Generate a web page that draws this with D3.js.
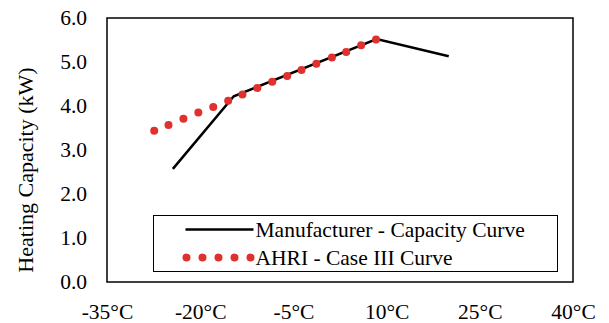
<!DOCTYPE html>
<html>
<head>
<meta charset="utf-8">
<script src="https://cdn.jsdelivr.net/npm/d3@7"></script>
<style>
  body { margin: 0; background: #fff; }
  svg text { font-family: "Liberation Serif", "Times New Roman", Times, "DejaVu Serif", serif !important; fill: #000; }
</style>
</head>
<body>
<div id="chart"></div>
<script>
// Chart data
var manufTemp = [-24.4, -14.6, 8.4, 20.0];
var manufCap = [2.57, 4.22, 5.52, 5.13];

var ahriTemp = [-27.4, -25.1, -22.7, -20.3, -17.9, -15.5, -13.2, -10.8, -8.4, -6.0, -3.7, -1.3, 1.2, 3.5, 5.9, 8.3];
var ahriCap = [3.44, 3.57, 3.71, 3.85, 3.98, 4.12, 4.26, 4.41, 4.55, 4.68, 4.82, 4.96, 5.10, 5.23, 5.38, 5.51];

var xTicks = [-35, -20, -5, 10, 25, 40];
var yTicks = [0, 1, 2, 3, 4, 5, 6];
var seriesNames = ["Manufacturer - Capacity Curve", "AHRI - Case III Curve"];

var serif = "'Liberation Serif', 'Times New Roman', Times, 'DejaVu Serif', serif";

// SVG area
var svgWidth = 609;
var svgHeight = 323;
var margin = { top: 18, right: 36, bottom: 41, left: 107 };
var chartWidth = svgWidth - margin.left - margin.right;
var chartHeight = svgHeight - margin.top - margin.bottom;

var svg = d3.select("#chart")
  .append("svg")
  .attr("width", svgWidth)
  .attr("height", svgHeight)
  .attr("font-family", serif);

var g = svg.append("g")
  .attr("transform", `translate(${margin.left}, ${margin.top})`);

var xScale = d3.scaleLinear().domain([-35, 40]).range([0, chartWidth]);
var yScale = d3.scaleLinear().domain([0, 6]).range([chartHeight, 0]);

// Axes (labels only, frame drawn separately)
var xAxis = g.append("g")
  .attr("transform", `translate(0, ${chartHeight})`)
  .call(d3.axisBottom(xScale).tickValues(xTicks).tickSize(0).tickPadding(22)
    .tickFormat(d => d + "°C"));
xAxis.attr("font-family", serif).attr("font-size", 21.5);
xAxis.select(".domain").remove();
xAxis.selectAll("text").attr("dy", "0.71em");

var yAxis = g.append("g")
  .call(d3.axisLeft(yScale).tickValues(yTicks).tickSize(0).tickPadding(20)
    .tickFormat(d3.format(".1f")));
yAxis.attr("font-family", serif).attr("font-size", 21.5);
yAxis.select(".domain").remove();

// Plot frame
g.append("rect")
  .attr("x", 0)
  .attr("y", 0)
  .attr("width", chartWidth)
  .attr("height", chartHeight)
  .attr("fill", "none")
  .attr("stroke", "#000")
  .attr("stroke-width", 1.5);

// Manufacturer line
var manufData = manufTemp.map((t, i) => ({ t: t, c: manufCap[i] }));
var line = d3.line().x(d => xScale(d.t)).y(d => yScale(d.c));
g.append("path")
  .datum(manufData)
  .attr("d", line)
  .attr("fill", "none")
  .attr("stroke", "#000")
  .attr("stroke-width", 2.5);

// AHRI dots
var ahriData = ahriTemp.map((t, i) => ({ t: t, c: ahriCap[i] }));
g.selectAll(".ahri")
  .data(ahriData)
  .enter()
  .append("circle")
  .attr("class", "ahri")
  .attr("cx", d => xScale(d.t))
  .attr("cy", d => yScale(d.c))
  .attr("r", 4)
  .attr("fill", "#e0312e");

// Y axis title
g.append("text")
  .attr("transform", "rotate(-90)")
  .attr("x", -152)
  .attr("y", -74)
  .style("text-anchor", "middle")
  .style("font-size", "22px")
  .text("Heating Capacity (kW)");

// Legend
var legend = svg.append("g").attr("transform", "translate(153.5, 215.5)");
legend.append("rect")
  .attr("width", 404)
  .attr("height", 56)
  .attr("fill", "#fff")
  .attr("stroke", "#000")
  .attr("stroke-width", 1);

legend.append("line")
  .attr("x1", 32).attr("x2", 100)
  .attr("y1", 14).attr("y2", 14)
  .attr("stroke", "#000")
  .attr("stroke-width", 2.5);

legend.selectAll(".legdot")
  .data(d3.range(5))
  .enter()
  .append("circle")
  .attr("class", "legdot")
  .attr("cx", d => 33 + d * 16)
  .attr("cy", 42)
  .attr("r", 4)
  .attr("fill", "#e0312e");

legend.selectAll(".legtext")
  .data(seriesNames)
  .enter()
  .append("text")
  .attr("class", "legtext")
  .attr("x", 102)
  .attr("y", (d, i) => 14 + i * 28)
  .attr("dy", "0.35em")
  .style("font-size", "21.5px")
  .text(d => d);
</script>
</body>
</html>
